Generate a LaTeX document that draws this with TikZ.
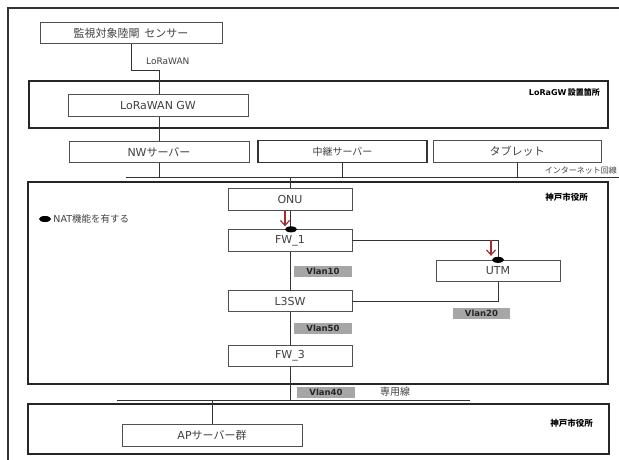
\documentclass[tikz,border=0pt]{standalone}
\usepackage{fontspec}
\setmainfont{DejaVu Sans}
\newfontfamily\jp{Noto Sans CJK JP}
\usetikzlibrary{arrows.meta,calc,shapes.geometric}
\definecolor{boxline}{HTML}{505050}
\definecolor{txt}{HTML}{404040}
\definecolor{vgray}{HTML}{A6A6A6}
\definecolor{darkred}{HTML}{A03030}
\tikzset{
  devbox/.style={draw=boxline,line width=0.8pt,minimum height=21.5pt,inner sep=0pt,text=txt,font=\fontsize{11}{12}\selectfont},
  frame/.style={draw=black!85,line width=1.5pt},
  conn/.style={draw=black!80,line width=0.7pt},
  vlan/.style={fill=vgray,inner sep=0pt,minimum height=11pt,text=black!85,font=\fontsize{8.5}{9}\selectfont\bfseries},
  redarrow/.style={draw=darkred,line width=1.2pt,-{Straight Barb[length=5pt,width=9pt]}},
  nat/.style={fill=black,draw=none,ellipse,minimum width=12pt,minimum height=6pt,inner sep=0pt},
  lbl/.style={inner sep=0pt,text=black}
}
\begin{document}
\begin{tikzpicture}[x=1pt,y=-1pt]
\useasboundingbox (0,0) rectangle (619,459);
% outer frame (extends past picture edge)
\draw[line width=1.2pt,black!80] (8,470) -- (8,8) -- (640,8);
% site frames
\draw[frame] (29,81) rectangle (608,128);
\draw[frame] (28,182) rectangle (608,384);
\draw[frame] (28,404) rectangle (609,454);

% devices
\node[devbox,minimum width=182pt] (sensor) at (131,33) {{\jp 監視対象陸閘\ \ センサー}};
\node[devbox,minimum width=180pt] (gw) at (158,105.5) {LoRaWAN GW};
\node[devbox,minimum width=180pt] (nw) at (159,152) {NW{\jp サーバー}};
\node[devbox,minimum width=169pt,line width=1.2pt,draw=black!80,font=\fontsize{10}{11}\selectfont] (relay) at (342.5,151.5) {{\jp 中継サーバー}};
\node[devbox,minimum width=168pt] (tablet) at (517,151.5) {{\jp タブレット}};
\node[devbox,minimum width=124pt] (onu) at (290,199.5) {ONU};
\node[devbox,minimum width=124pt] (fw1) at (290,240.5) {FW\_1};
\node[devbox,minimum width=124pt] (utm) at (498,271) {UTM};
\node[devbox,minimum width=124pt] (l3sw) at (290,301) {L3SW};
\node[devbox,minimum width=124pt] (fw3) at (290,356) {FW\_3};
\node[devbox,minimum width=180pt] (ap) at (212,435.5) {AP{\jp サーバー群}};

% helper coordinates
\coordinate (jog) at (159,70);
\coordinate (inetL) at (126,177);
\coordinate (inetR) at (640,177);
\coordinate (dedL) at (117,400);
\coordinate (dedR) at (470,400);

% connectors
\draw[conn] (sensor.south) |- (jog) -- (jog |- gw.north);
\draw[conn] (jog |- gw.south) -- (jog |- nw.north);
\draw[conn] (inetL) -- (inetR);
\draw[conn] (nw.south -| jog) -- (jog |- inetL);
\draw[conn] (relay.south) -- (relay.south |- inetL);
\draw[conn] (tablet.south) -- (tablet.south |- inetL);
\draw[conn] (onu.north |- inetL) -- (onu.north);
\draw[conn] (onu.south) -- (fw1.north);
\draw[conn] (fw1.east) -| (utm.north);
\draw[conn] (l3sw.east) -| (utm.south);
\draw[conn] (fw1.south) -- (l3sw.north);
\draw[conn] (l3sw.south) -- (fw3.north);
\draw[conn] (fw3.south) -- (fw3.south |- dedL);
\draw[conn] (dedL) -- (dedR);
\draw[conn] (ap.north |- dedL) -- (ap.north);

% NAT markers and red arrows
\draw[redarrow] ($(onu.south)+(-5,0)$) -- ($(fw1.north)+(-5,-3)$);
\draw[redarrow] ($(utm.north)+(-7,-20)$) -- ($(utm.north)+(-7,-4)$);
\node[nat] (natA) at ($(fw1.north)+(1,0)$) {};
\node[nat] (natB) at (utm.north) {};
\node[nat] (natL) at (45,219) {};
\node[lbl,anchor=west,font=\fontsize{9.5}{10}\selectfont,text=txt] (natT) at ($(natL.east)+(2,0)$) {NAT{\jp 機能を有する}};

% VLAN labels
\node[vlan,minimum width=58pt] (v10) at (323,271) {Vlan10};
\node[vlan,minimum width=57pt] (v20) at (481.5,313.5) {Vlan20};
\node[vlan,minimum width=58pt] (v50) at (323,328) {Vlan50};
\node[vlan,minimum width=58pt] (v40) at (326,392) {Vlan40};

% text labels
\node[lbl,anchor=west,font=\fontsize{9}{10}\selectfont,text=txt] (lorawan) at (146,61) {LoRaWAN};
\node[lbl,anchor=east,font=\fontsize{8}{9}\selectfont\bfseries] (lgwsite) at (600,92) {LoRaGW\,{\jp\bfseries 設置箇所}};
\node[lbl,anchor=east,font=\fontsize{8.5}{9}\selectfont\bfseries] (kobe1) at (588,197) {{\jp\bfseries 神戸市役所}};
\node[lbl,anchor=east,font=\fontsize{8.5}{9}\selectfont\bfseries] (kobe2) at (593,423) {{\jp\bfseries 神戸市役所}};
\node[lbl,anchor=east,font=\fontsize{8}{9}\selectfont,text=txt] (inet) at (617,170) {{\jp インターネット回線}};
\node[lbl,anchor=west,font=\fontsize{10}{11}\selectfont,text=txt] (ded) at (380,392) {{\jp 専用線}};
\end{tikzpicture}
\end{document}
